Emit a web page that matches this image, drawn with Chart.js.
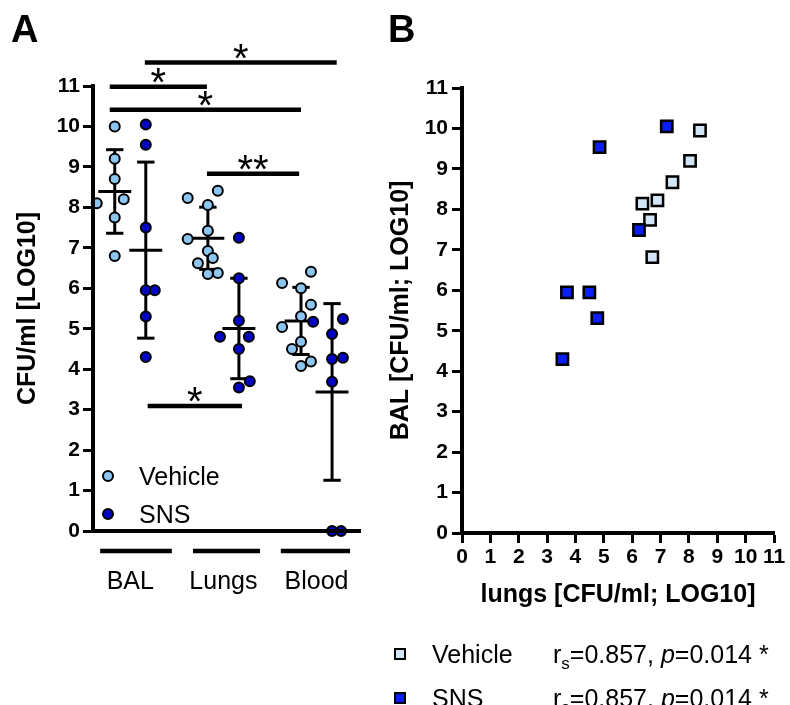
<!DOCTYPE html>
<html lang="en">
<head>
<meta charset="UTF-8">
<title>CFU/ml BAL, Lungs, Blood</title>
<script src="https://cdn.jsdelivr.net/npm/chart.js"></script>
<style>
    body { margin: 0; background: #fff; }
    canvas { position: absolute; top: 0; }
    #graficoA { left: 0; }
    #graficoB { left: 380px; }
</style>
</head>
<body>

<canvas id="graficoA" width="380" height="705"></canvas>
<canvas id="graficoB" width="410" height="705"></canvas>

<script>
    // ---- panel A: CFU per compartment (log10) ----
    const groups = ['BAL', 'Lungs', 'Blood'];

    const balVehicle   = [10.0, 9.2, 8.7, 8.2, 8.1, 7.75, 6.8];
    const balSNS       = [10.05, 9.55, 7.5, 5.95, 5.95, 5.3, 4.3];
    const lungsVehicle = [8.41, 8.23, 8.06, 7.42, 7.22, 6.92, 6.75, 6.62, 6.38, 6.35];
    const lungsSNS     = [7.25, 6.25, 5.2, 4.8, 4.8, 4.5, 3.7, 3.55];
    const bloodVehicle = [6.41, 6.13, 6.0, 5.59, 5.31, 5.04, 4.68, 4.5, 4.19, 4.08];
    const bloodSNS     = [5.24, 5.17, 4.87, 4.28, 4.25, 3.69, 0, 0];

    // sideways spread of overlapping dots (x units)
    const balVehicleSpread   = [0, 0, 0, 0.29, -0.58, 0, 0];
    const balSNSSpread       = [0, 0, 0, 0, 0.29, 0, 0];
    const lungsVehicleSpread = [0.32, -0.65, 0, 0, -0.65, 0, 0.16, -0.32, 0.32, 0];
    const lungsSNSSpread     = [0, 0, 0, -0.61, 0.32, 0, 0.35, 0];
    const bloodVehicleSpread = [0.32, -0.61, 0, 0.32, 0, -0.61, 0, -0.29, 0.32, 0];
    const bloodSNSSpread     = [0.35, -0.61, 0, 0.35, 0, 0, 0, 0.29];

    // significance bars: [from, to, height, stars]
    const brackets = [
        [1.97, 8.15, 11.58, '*'],
        [0.84, 3.97, 10.98, '*'],
        [0.84, 7.00, 10.41, '*'],
        [3.97, 6.94, 8.83, '**'],
        [2.06, 5.10, 3.09, '*']
    ];

    // ---- panel B: BAL vs lungs ----
    const vehicleLungs = [8.39, 8.04, 7.42, 6.89, 6.36, 6.63, 6.71];
    const vehicleBal   = [9.95, 9.20, 8.67, 8.22, 8.14, 7.74, 6.82];
    const snsLungs     = [7.22, 4.85, 6.24, 3.70, 4.49, 4.77, 3.54];
    const snsBal       = [10.05, 9.54, 7.49, 5.95, 5.95, 5.31, 4.30];
    const statsText    = ['0.857', '0.014'];

    const FONTE = "'Liberation Sans', Arial, sans-serif";
    const corVehicleA = '#8cc5f0';
    const corSNSA = '#0303c4';
    const corVehicleB = '#d2e5f7';
    const corSNSB = '#0a1ef5';

    Chart.defaults.font.family = FONTE;
    Chart.defaults.color = '#000';

    const vehicleSeries = [balVehicle, lungsVehicle, bloodVehicle];
    const vehicleSpreads = [balVehicleSpread, lungsVehicleSpread, bloodVehicleSpread];
    const snsSeries = [balSNS, lungsSNS, bloodSNS];
    const snsSpreads = [balSNSSpread, lungsSNSSpread, bloodSNSSpread];

    function pontos(series, spreads, slot) {
        let out = [];
        series.forEach((vals, g) => {
            vals.forEach((v, i) => out.push({ x: g * 3 + slot + spreads[g][i], y: v }));
        });
        return out;
    }

    function meanSd(v) {
        const m = v.reduce((a, b) => a + b, 0) / v.length;
        const sd = Math.sqrt(v.reduce((a, b) => a + (b - m) ** 2, 0) / (v.length - 1));
        return { m, sd };
    }

    const errorBars = {
        id: 'errorBars',
        beforeDatasetsDraw(chart) {
            const { ctx, scales: { x, y } } = chart;
            ctx.save();
            ctx.strokeStyle = '#000';
            ctx.lineWidth = 3;
            [[vehicleSeries, 1], [snsSeries, 2]].forEach(([series, slot]) => {
                series.forEach((vals, g) => {
                    const { m, sd } = meanSd(vals);
                    const c = g * 3 + slot;
                    const line = (x1, y1, x2, y2) => {
                        ctx.beginPath();
                        ctx.moveTo(x.getPixelForValue(x1), y.getPixelForValue(y1));
                        ctx.lineTo(x.getPixelForValue(x2), y.getPixelForValue(y2));
                        ctx.stroke();
                    };
                    line(c, m - sd, c, m + sd);
                    line(c - 0.28, m + sd, c + 0.28, m + sd);
                    line(c - 0.28, m - sd, c + 0.28, m - sd);
                    line(c - 0.53, m, c + 0.53, m);
                });
            });
            ctx.restore();
        }
    };

    const extrasA = {
        id: 'extrasA',
        afterDraw(chart) {
            const { ctx, scales: { x, y } } = chart;
            ctx.save();
            ctx.fillStyle = '#000';
            ctx.strokeStyle = '#000';

            // significance bars
            brackets.forEach(([a, b, h, stars]) => {
                const py = y.getPixelForValue(h);
                ctx.lineWidth = 4.5;
                ctx.beginPath();
                ctx.moveTo(x.getPixelForValue(a), py);
                ctx.lineTo(x.getPixelForValue(b), py);
                ctx.stroke();
                ctx.font = '40px ' + FONTE;
                ctx.textAlign = 'center';
                ctx.textBaseline = 'alphabetic';
                ctx.fillText(stars, x.getPixelForValue((a + b) / 2), py + 9);
            });

            // group labels with bars above them
            const spans = [[0.53, 2.84], [3.52, 5.68], [6.35, 8.58]];
            groups.forEach((g, i) => {
                ctx.lineWidth = 4.5;
                ctx.beginPath();
                ctx.moveTo(x.getPixelForValue(spans[i][0]), 551);
                ctx.lineTo(x.getPixelForValue(spans[i][1]), 551);
                ctx.stroke();
                ctx.font = '25px ' + FONTE;
                ctx.textAlign = 'center';
                ctx.fillText(g, x.getPixelForValue(i * 3 + 1.5), 589);
            });

            // legend
            [['Vehicle', corVehicleA, 476], ['SNS', corSNSA, 514]].forEach(([txt, cor, py]) => {
                ctx.beginPath();
                ctx.arc(108, py, 5, 0, Math.PI * 2);
                ctx.fillStyle = cor;
                ctx.fill();
                ctx.lineWidth = 2;
                ctx.stroke();
                ctx.fillStyle = '#000';
                ctx.font = '25px ' + FONTE;
                ctx.textAlign = 'left';
                ctx.fillText(txt, 139, py + 9);
            });

            // panel letter
            ctx.font = 'bold 38px ' + FONTE;
            ctx.textAlign = 'left';
            ctx.fillText('A', 11, 42);
            ctx.restore();
        }
    };

    new Chart(document.getElementById('graficoA'), {
        type: 'scatter',
        data: {
            datasets: [
                {
                    label: 'SNS',
                    data: pontos(snsSeries, snsSpreads, 2),
                    backgroundColor: corSNSA,
                    borderColor: '#000',
                    borderWidth: 2,
                    pointRadius: 5,
                    clip: false
                },
                {
                    label: 'Vehicle',
                    data: pontos(vehicleSeries, vehicleSpreads, 1),
                    backgroundColor: corVehicleA,
                    borderColor: '#000',
                    borderWidth: 2,
                    pointRadius: 5,
                    clip: false
                }
            ]
        },
        options: {
            responsive: false,
            devicePixelRatio: 1,
            animation: false,
            layout: { padding: { top: 86, right: 20, bottom: 154, left: 8 } },
            plugins: { legend: { display: false }, tooltip: { enabled: false } },
            scales: {
                x: {
                    type: 'linear',
                    min: 0.3,
                    max: 8.9,
                    ticks: { display: false },
                    grid: { display: false, drawTicks: false },
                    border: { width: 4, color: '#000', z: 1 },
                    afterFit: s => { s.height = 20; }
                },
                y: {
                    min: 0,
                    max: 11,
                    ticks: { stepSize: 1, padding: 3, font: { size: 21, weight: 'bold' } },
                    grid: { drawOnChartArea: false, tickLength: 10, tickWidth: 3, color: '#000', tickColor: '#000' },
                    border: { width: 4, color: '#000', z: 1 },
                    title: {
                        display: true,
                        text: 'CFU/ml [LOG10]',
                        font: { size: 25, weight: 'bold' },
                        padding: { top: 5, bottom: 0 }
                    },
                    afterFit: s => { s.width = 85; }
                }
            }
        },
        plugins: [errorBars, extrasA]
    });

    const extrasB = {
        id: 'extrasB',
        afterDraw(chart) {
            const { ctx } = chart;
            ctx.save();
            ctx.fillStyle = '#000';
            ctx.font = 'bold 38px ' + FONTE;
            ctx.textAlign = 'left';
            ctx.textBaseline = 'alphabetic';
            ctx.fillText('B', 8, 42);

            [['Vehicle', corVehicleB, 654], ['SNS', corSNSB, 698]].forEach(([txt, cor, py]) => {
                ctx.fillStyle = cor;
                ctx.fillRect(15, py - 5, 10, 10);
                ctx.lineWidth = 2;
                ctx.strokeStyle = '#000';
                ctx.strokeRect(15, py - 5, 10, 10);

                ctx.fillStyle = '#000';
                const base = py + 9;
                ctx.font = '25px ' + FONTE;
                ctx.fillText(txt, 52, base);

                let px = 173;
                const pedaco = (t, f, dy) => {
                    ctx.font = f;
                    ctx.fillText(t, px, base + dy);
                    px += ctx.measureText(t).width;
                };
                pedaco('r', '25px ' + FONTE, 0);
                pedaco('s', '17px ' + FONTE, 6);
                pedaco('=' + statsText[0] + ', ', '25px ' + FONTE, 0);
                pedaco('p', 'italic 25px ' + FONTE, 0);
                pedaco('=' + statsText[1] + ' *', '25px ' + FONTE, 0);
            });
            ctx.restore();
        }
    };

    new Chart(document.getElementById('graficoB'), {
        type: 'scatter',
        data: {
            datasets: [
                {
                    label: 'SNS',
                    data: snsLungs.map((v, i) => ({ x: v, y: snsBal[i] })),
                    backgroundColor: corSNSB,
                    borderColor: '#000',
                    borderWidth: 2.5,
                    pointStyle: 'rect',
                    pointRadius: 8,
                    clip: false
                },
                {
                    label: 'Vehicle',
                    data: vehicleLungs.map((v, i) => ({ x: v, y: vehicleBal[i] })),
                    backgroundColor: corVehicleB,
                    borderColor: '#000',
                    borderWidth: 2.5,
                    pointStyle: 'rect',
                    pointRadius: 8,
                    clip: false
                }
            ]
        },
        options: {
            responsive: false,
            devicePixelRatio: 1,
            animation: false,
            layout: { padding: { top: 88, right: 16, bottom: 92, left: 3 } },
            plugins: { legend: { display: false }, tooltip: { enabled: false } },
            scales: {
                x: {
                    type: 'linear',
                    min: 0,
                    max: 11,
                    ticks: { stepSize: 1, autoSkip: false, maxRotation: 0, padding: 2, font: { size: 21, weight: 'bold' } },
                    grid: { drawOnChartArea: false, tickLength: 10, tickWidth: 3, color: '#000', tickColor: '#000' },
                    border: { width: 4, color: '#000', z: 1 },
                    title: {
                        display: true,
                        text: 'lungs [CFU/ml; LOG10]',
                        font: { size: 25, weight: 'bold' },
                        padding: { top: 0, bottom: 3 }
                    },
                    afterFit: s => { s.height = 80; }
                },
                y: {
                    min: 0,
                    max: 11,
                    ticks: { stepSize: 1, padding: 4, font: { size: 21, weight: 'bold' } },
                    grid: { drawOnChartArea: false, tickLength: 10, tickWidth: 3, color: '#000', tickColor: '#000' },
                    border: { width: 4, color: '#000', z: 1 },
                    title: {
                        display: true,
                        text: 'BAL [CFU/ml; LOG10]',
                        font: { size: 25, weight: 'bold' },
                        padding: { top: 3, bottom: 0 }
                    },
                    afterFit: s => { s.width = 79; }
                }
            }
        },
        plugins: [extrasB]
    });
</script>

</body>
</html>
